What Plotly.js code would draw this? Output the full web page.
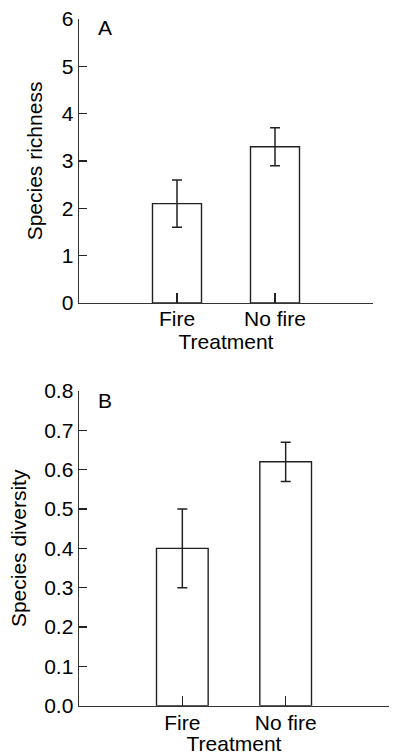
<!DOCTYPE html>
<html><head><meta charset="utf-8">
<script src="https://cdn.plot.ly/plotly-3.0.1.min.js"></script>
<style>html,body{margin:0;padding:0;background:#fff}</style>
</head><body>
<div id="chart" style="width:396px;height:755px"></div>
<script>
var categories = ['Fire', 'No fire'];
var richnessMean = [2.1, 3.3];
var richnessErr = [0.5, 0.4];
var diversityMean = [0.40, 0.62];
var diversityErr = [0.10, 0.05];
var tickPositions = [0, 1, 2];
var tickLabels = ['Fire', 'No fire', ''];

var F = 'Liberation Sans, Arial, sans-serif';
var fs = 21;
var ink = '#222';

var traces = [
  {type:'bar', x:[0,1], y:richnessMean, width:0.5, xaxis:'x', yaxis:'y',
   marker:{color:'#fff', line:{color:ink, width:1.4}},
   error_y:{type:'data', array:richnessErr, visible:true, color:ink, thickness:1.5, width:5},
   hoverinfo:'skip', showlegend:false},
  {type:'bar', x:[0,1], y:diversityMean, width:0.5, xaxis:'x2', yaxis:'y2',
   marker:{color:'#fff', line:{color:ink, width:1.4}},
   error_y:{type:'data', array:diversityErr, visible:true, color:ink, thickness:1.5, width:5},
   hoverinfo:'skip', showlegend:false}
];

function xax(dom, anchor, lblShift, tStand){
  return {domain:dom, anchor:anchor, range:[-1,2], tickmode:'array', tickvals:tickPositions, ticktext:tickLabels,
    ticks:'inside', ticklen:10, tickwidth:1.3, tickcolor:ink, showline:true, linecolor:'#333', linewidth:1.4,
    showgrid:false, zeroline:false, automargin:false, tickfont:{family:F, size:fs, color:'#000'},
    ticklabelstandoff:lblShift,
    title:{text:'Treatment', font:{family:F, size:fs, color:'#000'}, standoff:tStand}};
}
function yax(dom, anchor, range, dtick, fmt, title, tStand){
  return {domain:dom, anchor:anchor, range:range, tickmode:'linear', tick0:0, dtick:dtick, tickformat:fmt,
    ticks:'inside', ticklen:8, tickwidth:1.3, tickcolor:ink, showline:true, linecolor:'#333', linewidth:1.4,
    showgrid:false, zeroline:false, automargin:false, tickfont:{family:F, size:fs, color:'#000'},
    title:{text:title, font:{family:F, size:fs, color:'#000'}, standoff:tStand}};
}

var layout = {
  width:396, height:755, margin:{l:0, r:0, t:0, b:0},
  paper_bgcolor:'#fff', plot_bgcolor:'#fff', bargap:0,
  xaxis: xax([79/396, 373/396], 'y', -4, 2),
  yaxis: yax([1-303/755, 1-19/755], 'x', [0,6], 1, 'd', 'Species richness', 13),
  xaxis2: xax([79/396, 389/396], 'y2', -2, 8),
  yaxis2: yax([1-705.7/755, 1-391/755], 'x2', [0,0.8], 0.1, '.1f', 'Species diversity', 12),
  annotations:[
    {text:'A', xref:'paper', yref:'paper', x:96/396, y:1-27/755, xanchor:'left', yanchor:'middle', showarrow:false, font:{family:F, size:fs, color:'#000'}},
    {text:'B', xref:'paper', yref:'paper', x:96/396, y:1-400/755, xanchor:'left', yanchor:'middle', showarrow:false, font:{family:F, size:fs, color:'#000'}}
  ]
};
Plotly.newPlot('chart', traces, layout, {staticPlot:true, displayModeBar:false});
</script>
</body></html>
